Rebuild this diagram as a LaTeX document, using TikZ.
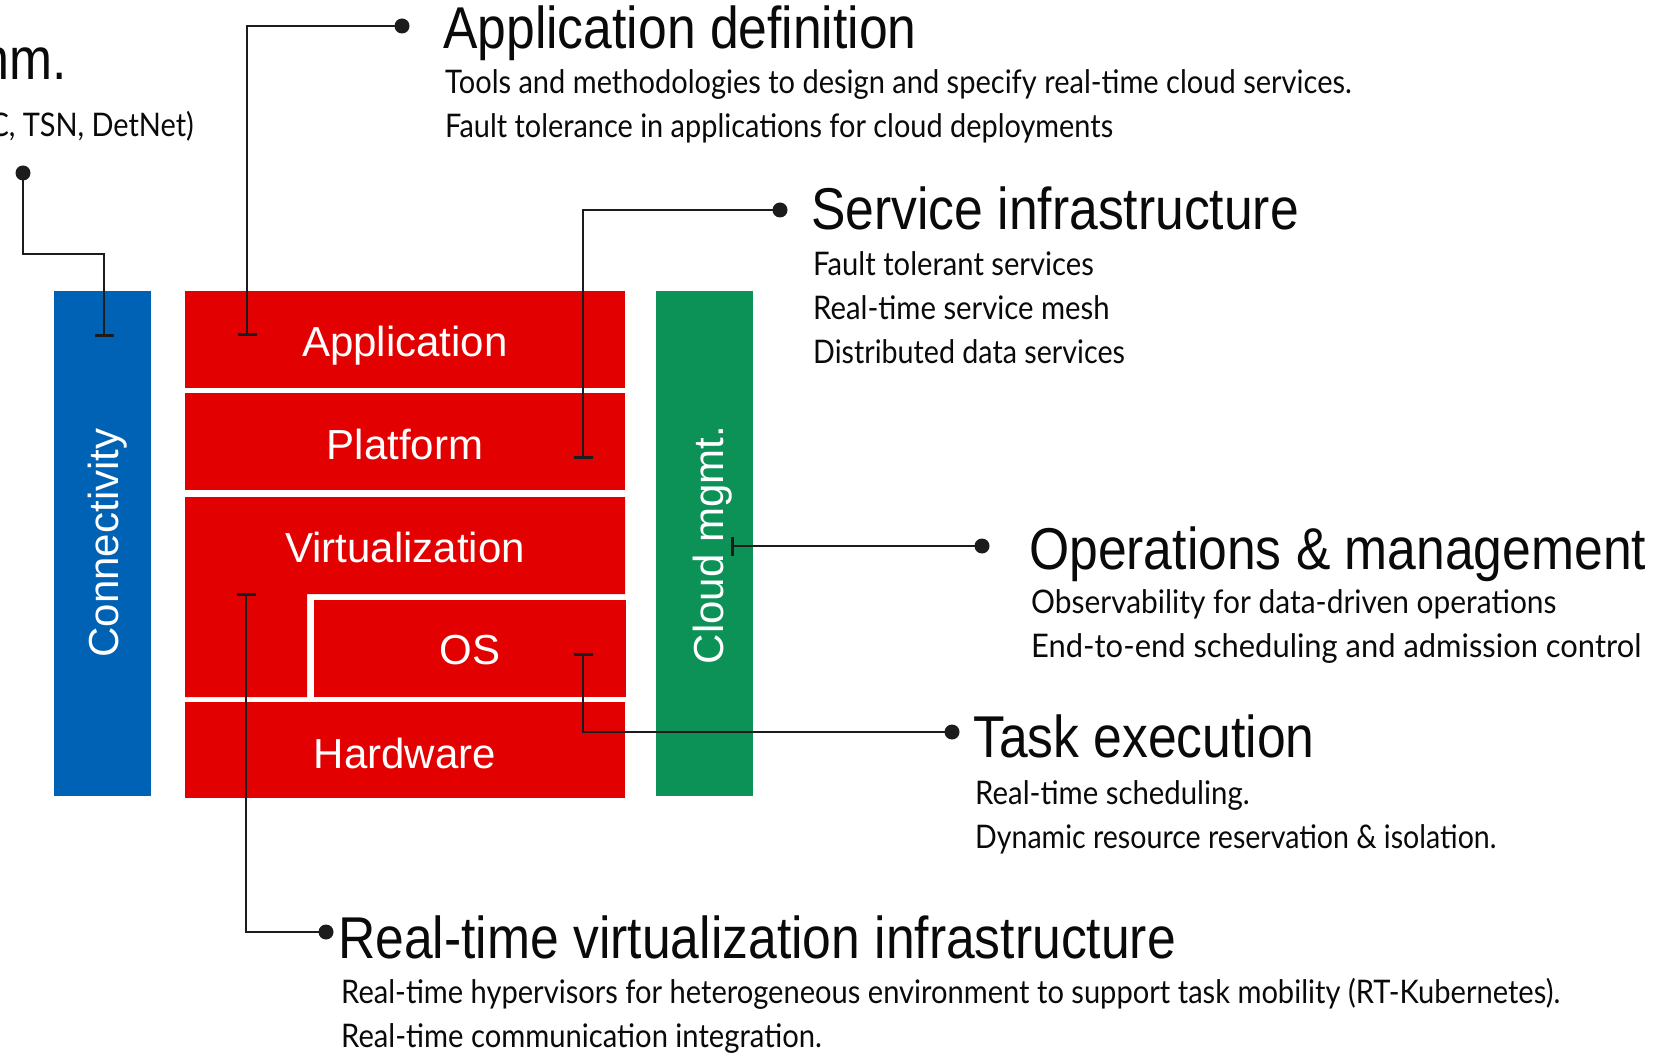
\documentclass[tikz,border=0pt]{standalone}
\usepackage{fontspec}
\usepackage{graphicx}
\setmainfont{Liberation Sans}
\newfontfamily\hfont{Liberation Sans}
\newfontfamily\bfont{Lato}
\usetikzlibrary{arrows.meta}
\definecolor{eblue}{RGB}{0,98,180}
\definecolor{ered}{RGB}{226,0,0}
\definecolor{egreen}{RGB}{12,145,86}
\definecolor{lc}{RGB}{28,28,28}
\definecolor{tc}{RGB}{10,10,10}
\newcommand\hdtxt[1]{\scalebox{0.875}[1]{#1}}
\newcommand\bdtxt[2][0.89]{\scalebox{#1}[1]{#2}}
\tikzset{
  hd/.style={anchor=base west, inner sep=0pt, text=tc, font=\hfont\fontsize{59}{59}\selectfont},
  bd/.style={anchor=base west, inner sep=0pt, text=tc, font=\bfont\fontsize{32.5}{32.5}\selectfont},
  bl/.style={anchor=base, inner sep=0pt, text=white, font=\hfont\fontsize{42}{42}\selectfont},
  dot/.style={circle, fill=lc, inner sep=0pt, minimum size=15pt},
  conn/.style={draw=lc, line width=2.6pt, -{Bar[width=19pt, line width=2.6pt]}},
}
\begin{document}
\begin{tikzpicture}[x=1pt,y=-1pt]
\clip (0,0) rectangle (1665,1056);
\fill[white] (0,0) rectangle (1665,1056);

% side bars
\fill[eblue] (54,291) rectangle (151,796);
\fill[egreen] (656,291) rectangle (753,796);
\node[bl, rotate=90] (lConn) at (118,543) {Connectivity};
\node[bl, rotate=90] (lCloud) at (723,545) {Cloud mgmt.};

% red stack
\fill[ered] (185,291) rectangle (625,388);
\fill[ered] (185,393) rectangle (625,490);
\fill[ered] (185,497) -- (625,497) -- (625,594) -- (307,594) -- (307,697) -- (185,697) -- cycle;
\fill[ered] (314,600) rectangle (626,697);
\fill[ered] (185,702) rectangle (625,798);
\node[bl] (lApp) at (405,357) {Application};
\node[bl] (lPlat) at (405,459) {Platform};
\node[bl] (lVirt) at (405,562) {Virtualization};
\node[bl] (lOS) at (470,664) {OS};
\node[bl] (lHw) at (405,768) {Hardware};

% texts
\node[hd, anchor=base east] (hComm) at (67,80) {\hdtxt{mm.}};
\node[bd, anchor=base east] (bComm) at (194,137) {\bdtxt{C, TSN, DetNet)}};

\node[hd] (hApp) at (443,49) {\hdtxt{Application definition}};
\node[bd] (bApp1) at (445,94) {\bdtxt[0.893]{Tools and methodologies to design and specify real-time cloud services.}};
\node[bd] (bApp2) at (445,138) {\bdtxt[0.889]{Fault tolerance in applications for cloud deployments}};

\node[hd] (hSvc) at (811,230) {\hdtxt{Service infrastructure}};
\node[bd] (bSvc1) at (813,276) {\bdtxt[0.898]{Fault tolerant services}};
\node[bd] (bSvc2) at (813,320) {\bdtxt[0.901]{Real-time service mesh}};
\node[bd] (bSvc3) at (813,364) {\bdtxt[0.882]{Distributed data services}};

\node[hd] (hOps) at (1029,569) {\hdtxt{Operations \& management}};
\node[bd] (bOps1) at (1031,613) {\bdtxt[0.92]{Observability for data-driven operations}};
\node[bd] (bOps2) at (1031,657) {\bdtxt[0.951]{End-to-end scheduling and admission control}};

\node[hd] (hTask) at (973,757) {\hdtxt{Task execution}};
\node[bd] (bTask1) at (975,804) {\bdtxt[0.903]{Real-time scheduling.}};
\node[bd] (bTask2) at (975,848) {\bdtxt[0.879]{Dynamic resource reservation \& isolation.}};

\node[hd] (hRtv) at (338,958) {\hdtxt{Real-time virtualization infrastructure}};
\node[bd] (bRtv1) at (341,1003) {\bdtxt[0.895]{Real-time hypervisors for heterogeneous environment to support task mobility (RT-Kubernetes).}};
\node[bd] (bRtv2) at (341,1047) {\bdtxt[0.898]{Real-time communication integration.}};

% connectors: dots and tick ends
\node[dot] (dConn) at (23,173) {};
\coordinate (kConn) at (104,254);
\coordinate (tConn) at (104,337);
\node[dot] (dApp) at (402,26) {};
\coordinate (tApp) at (247,336);
\node[dot] (dSvc) at (780,210) {};
\coordinate (tSvc) at (583,459);
\node[dot] (dOps) at (982,546) {};
\coordinate (tOps) at (731,546);
\node[dot] (dTask) at (952,732) {};
\coordinate (tTask) at (583,653);
\node[dot] (dVirt) at (326,932) {};
\coordinate (tVirt) at (246,593);

\draw[conn] (dConn.center) |- (kConn) -- (tConn);
\draw[conn] (dApp.center) -| (tApp);
\draw[conn] (dSvc.center) -| (tSvc);
\draw[conn] (dOps.center) -- (tOps);
\draw[conn] (dTask.center) -| (tTask);
\draw[conn] (dVirt.center) -| (tVirt);
\end{tikzpicture}
\end{document}
